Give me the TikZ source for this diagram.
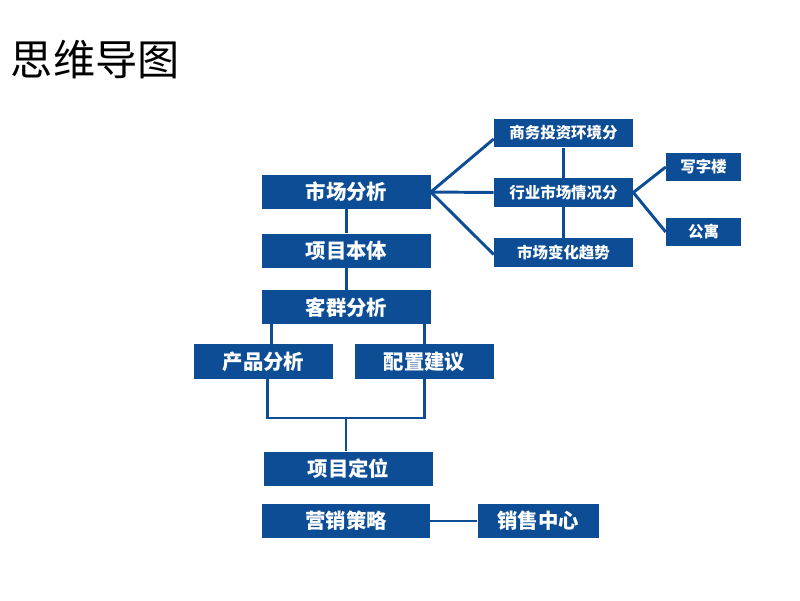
\documentclass[tikz,border=0pt]{standalone}
\usepackage{fontspec}
\setmainfont{Noto Sans CJK SC}
\usepackage{tikz}
\usetikzlibrary{positioning,calc}
\definecolor{mapblue}{RGB}{12,77,150}
\tikzset{
  mainbox/.style={rectangle,draw=none,fill=mapblue,text=white,
                  minimum width=4.2cm,minimum height=0.85cm,
                  font=\fontsize{14.5}{16}\selectfont\bfseries,align=center},
  subbox/.style={rectangle,draw=none,fill=mapblue,text=white,
                 minimum width=3.475cm,minimum height=0.72cm,
                 font=\fontsize{11}{13}\selectfont\bfseries,align=center},
  link/.style={draw=mapblue,line width=2.1pt},
}
\begin{document}
\begin{tikzpicture}[
  x=0.025cm,y=-0.025cm,
  leafbox/.style={subbox,minimum width=1.875cm},
  pairbox/.style={mainbox,minimum width=3.475cm,minimum height=0.875cm},
]
  \useasboundingbox (0,0) rectangle (800,600);

  \node[anchor=west,font=\fontsize{30}{34}\selectfont] (title) at (6,60) {思维导图};

  % main column
  \node[mainbox] (mkt) at (346.5,192) {市场分析};
  \node[mainbox,below=0.6cm of mkt] (proj) {项目本体};
  \node[mainbox,below=0.55cm of proj] (cust) {客群分析};
  \node[pairbox] (prod) at (263.5,361.5) {产品分析};
  \node[pairbox] (cfg) at (424.5,361.5) {配置建议};
  \node[mainbox] (pos) at (348.5,468.5) {项目定位};
  \node[mainbox] (sales) at (346,521) {营销策略};
  \node[mainbox,minimum width=3.025cm,right=1.175cm of sales] (ctr) {销售中心};

  % market branch
  \node[subbox] (biz) at (563.5,133) {商务投资环境分};
  \node[subbox] (ind) at (563.5,192.5) {行业市场情况分};
  \node[subbox] (trend) at (563.5,252.5) {市场变化趋势};
  \node[leafbox] (office) at (703.5,167) {写字楼};
  \node[leafbox] (flat) at (703.5,232) {公寓};

  \draw[link] (mkt.east) -- ([yshift=-1.5mm]biz.west);
  \draw[link] (mkt.east) -- (ind.west);
  \draw[link] (mkt.east) -- ([yshift=-0.5mm]trend.west);
  \draw[link] (biz.south) -- (ind.north);
  \draw[link] (ind.south) -- (trend.north);
  \draw[link] (ind.east) -- (office.west);
  \draw[link] (ind.east) -- (flat.west);

  \draw[link] (mkt.south) -- (mkt.south |- proj.north);
  \draw[link] (proj.south) -- (proj.south |- cust.north);
  \draw[link] ([xshift=2.3mm]cust.south west) -- ([xshift=2.3mm]cust.south west |- prod.north);
  \draw[link] ([xshift=-1.5mm]cust.south east) -- ([xshift=-1.5mm]cust.south east |- cfg.north);

  \coordinate (join) at (346,418);
  \draw[link] ([xshift=1mm]prod.south) |- (join) -| (cfg.south);
  \draw[link] (join) -- (join |- pos.north);

  \draw[link] (sales.east) -- (ctr.west);
\end{tikzpicture}
\end{document}
